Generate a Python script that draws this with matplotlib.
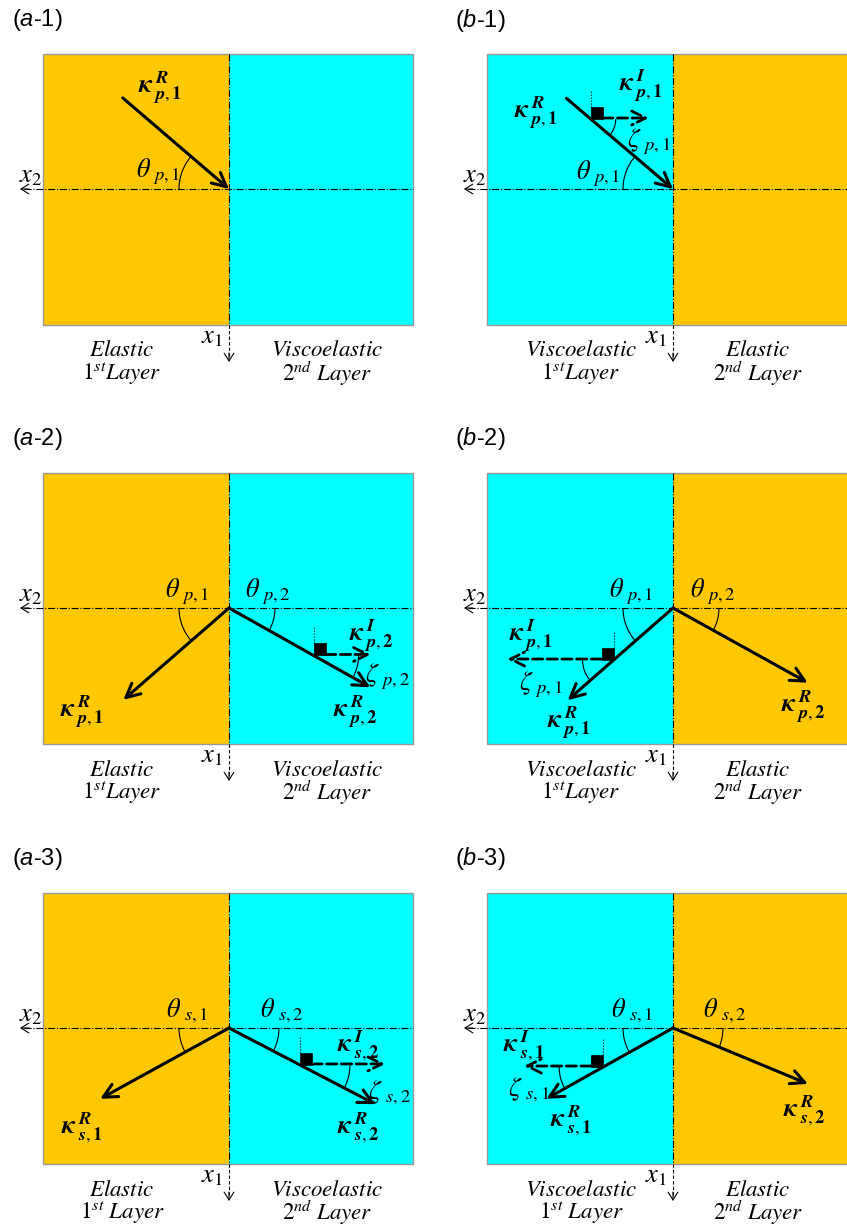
import matplotlib
matplotlib.use("Agg")
import numpy as np
import matplotlib.pyplot as plt
from matplotlib.patches import Rectangle, Arc

plt.rcParams["mathtext.rm"] = "Liberation Sans"
plt.rcParams["mathtext.it"] = "Liberation Sans:italic"

W, H = 847, 1226
ORANGE = "#FFC800"
CYAN = "#00FFFF"

# ---- panel content -------------------------------------------------------
panel_ids = ["a-1", "b-1", "a-2", "b-2", "a-3", "b-3"]
layer_names = {"a": ["Elastic", "Viscoelastic"], "b": ["Viscoelastic", "Elastic"]}
wave_type = {"a-1": "p", "b-1": "p", "a-2": "p", "b-2": "p", "a-3": "s", "b-3": "s"}

# ray angles from the x2 axis (degrees) and drawn ray lengths
incident_angle = {"a-1": 40.6, "b-1": 40.4}
incident_length = {"a-1": 140, "b-1": 140}
reflected_angle = {"a-2": 41.0, "b-2": 41.2, "a-3": 28.8, "b-3": 29.2}
reflected_length = {"a-2": 140, "b-2": 140, "a-3": 147, "b-3": 145}
transmitted_angle = {"a-2": 29.3, "b-2": 29.0, "a-3": 27.5, "b-3": 22.5}
transmitted_length = {"a-2": 162, "b-2": 154, "a-3": 165, "b-3": 146}

# attenuation (imaginary wave vector) markers in the viscoelastic layer
attenuation_ray = {"b-1": "inc", "a-2": "tra", "b-2": "ref", "a-3": "tra", "b-3": "ref"}
attenuation_offset = {"b-1": 108, "a-2": 97, "b-2": 79, "a-3": 80, "b-3": 80}
attenuation_length = {"b-1": 58, "a-2": 57, "b-2": 106, "a-3": 85, "b-3": 79}

# ---- layout ----------------------------------------------------------------
row_tops = [54, 473, 893]
col_lefts = {"a": 43, "b": 487}
BOX_W, BOX_H = 370, 271
HALF = 186
AXIS_DROP = 135
zeta_radius = {"b-1": 25, "a-2": 45, "b-2": 31, "a-3": 50, "b-3": 44}
theta_radius = 50
SQ = 12

label_offsets = {
    "a-1": {"kR_in": (-69, -101), "th_in": (-71, -17)},
    "b-1": {"kR_in": (-137, -76), "kI": (-32, -103), "zeta": (-24, -47), "th_in": (-75, -15)},
    "a-2": {"th1": (-42, -16), "th2": (39, -16), "kR1": (-147, 104), "kI": (142, 28),
            "zeta": (159, 69), "kR2": (126, 104)},
    "b-2": {"th1": (-42, -16), "th2": (40, -16), "kI": (-142, 28), "zeta": (-132, 77),
            "kR1": (-104, 115), "kR2": (130, 99)},
    "a-3": {"th1": (-42, -17), "th2": (53, -17), "kR1": (-147, 100), "kI": (129, 18),
            "zeta": (161, 65), "kR2": (129, 100)},
    "b-3": {"th1": (-41, -17), "th2": (52, -17), "kI": (-149, 18), "zeta": (-144, 62),
            "kR1": (-102, 93), "kR2": (131, 83)},
}
bottom_label_dx = {"a": (-107, 98), "b": (-92, 85)}
ordinal_gap = ["", "", r"\ "]

SERIF = "stix"
LABEL_FS = 16.5
KAPPA_FS = 19
ANGLE_FS = 19


def kappa(part, wave, idx):
    return (r"$\boldsymbol{\kappa}\,{}^{\boldsymbol{" + part + r"}}_{\boldsymbol{"
            + wave + "," + idx + r"}}$")


def angle_sym(sym, wave, idx):
    return r"$\%s\;{}_{%s,%s}$" % (sym, wave, idx)


fig = plt.figure(figsize=(W / 100, H / 100), dpi=100)
ax = fig.add_axes([0, 0, 1, 1])
ax.set_xlim(0, W)
ax.set_ylim(H, 0)
ax.set_aspect("equal")
ax.axis("off")


def text(x, y, s, fs=LABEL_FS, **kw):
    ax.text(x, y, s, fontsize=fs, ha="center", va="center",
            math_fontfamily=SERIF, **kw)


def ray(start, end, lw=2.2, ls="-"):
    ax.annotate("", xy=end, xytext=start,
                arrowprops=dict(arrowstyle="->,head_length=0.5,head_width=0.25",
                                lw=lw, ls=ls, color="black", shrinkA=0, shrinkB=0,
                                mutation_scale=20))


for pid in panel_ids:
    col, row = pid[0], int(pid[2]) - 1
    left, top = col_lefts[col], row_tops[row]
    ox, oy = left + HALF, top + AXIS_DROP
    wave = wave_type[pid]

    c1, c2 = (ORANGE, CYAN) if col == "a" else (CYAN, ORANGE)
    ax.add_patch(Rectangle((left, top), HALF, BOX_H, fc=c1, ec="none", zorder=0))
    ax.add_patch(Rectangle((ox, top), BOX_W - HALF, BOX_H, fc=c2, ec="none", zorder=0))
    ax.add_patch(Rectangle((left, top), BOX_W, BOX_H, fill=False, ec="#999999",
                           lw=1.0, zorder=1))

    # panel tag
    tag_x = 12 if col == "a" else 455
    ax.text(tag_x, top - 34, r"($\mathit{%s}$-%s)" % (pid[0], pid[2]), fontsize=17,
            ha="left", va="center", family="Liberation Sans", math_fontfamily="custom")

    # coordinate axes
    x_end = left + BOX_W
    ax.plot([ox - 205, x_end], [oy, oy], ls="-.", lw=0.8, color="black", zorder=2)
    ax.annotate("", xy=(ox - 209, oy), xytext=(ox - 200, oy),
                arrowprops=dict(arrowstyle="->,head_length=0.4,head_width=0.25", lw=0.8,
                                color="black", shrinkA=0, shrinkB=0, mutation_scale=14))
    ax.plot([ox, ox], [top, top + BOX_H], ls="-.", lw=0.8, color="black", zorder=2)
    ax.plot([ox, ox], [top + BOX_H, oy + 168], ls=(0, (3, 2)), lw=0.8, color="black",
            zorder=2)
    ax.annotate("", xy=(ox, oy + 173), xytext=(ox, oy + 164),
                arrowprops=dict(arrowstyle="->,head_length=0.4,head_width=0.25", lw=0.8,
                                color="black", shrinkA=0, shrinkB=0, mutation_scale=14))
    text(ox - 198, oy - 14, r"$x_2$", fs=19)
    text(ox - 17, oy + 147, r"$x_1$", fs=19)

    # layer captions
    dxl, dxr = bottom_label_dx[col]
    names = layer_names[col]
    text(ox + dxl, oy + 161, r"$%s$" % names[0])
    text(ox + dxr, oy + 161, r"$%s$" % names[1])
    gap1 = ordinal_gap[row]
    text(ox + dxl, oy + 185, r"$1^{st}%sLayer$" % gap1)
    text(ox + dxr, oy + 185, r"$2^{nd}\ Layer$")

    offs = label_offsets[pid]
    ray_dirs = {}

    if pid in incident_angle:
        a = np.radians(incident_angle[pid])
        L = incident_length[pid]
        start = (ox - L * np.cos(a), oy - L * np.sin(a))
        ray(start, (ox, oy))
        ax.add_patch(Arc((ox, oy), 2 * theta_radius, 2 * theta_radius,
                         theta1=180, theta2=180 + incident_angle[pid], lw=0.8))
        ray_dirs["inc"] = (np.array([-np.cos(a), -np.sin(a)]), 1, incident_angle[pid])
        tx, ty = offs["kR_in"]
        text(ox + tx, oy + ty, kappa("R", wave, "1"), fs=KAPPA_FS)
        tx, ty = offs["th_in"]
        text(ox + tx, oy + ty, angle_sym("theta", wave, "1"), fs=ANGLE_FS)
    else:
        a1 = np.radians(reflected_angle[pid])
        L1 = reflected_length[pid]
        ray((ox, oy), (ox - L1 * np.cos(a1), oy + L1 * np.sin(a1)))
        ax.add_patch(Arc((ox, oy), 2 * theta_radius, 2 * theta_radius,
                         theta1=180 - reflected_angle[pid], theta2=180, lw=0.8))
        ray_dirs["ref"] = (np.array([-np.cos(a1), np.sin(a1)]), -1, reflected_angle[pid])

        a2 = np.radians(transmitted_angle[pid])
        L2 = transmitted_length[pid]
        ray((ox, oy), (ox + L2 * np.cos(a2), oy + L2 * np.sin(a2)))
        r2 = 46 if row == 1 else theta_radius
        ax.add_patch(Arc((ox, oy), 2 * r2, 2 * r2,
                         theta1=0, theta2=transmitted_angle[pid], lw=0.8))
        ray_dirs["tra"] = (np.array([np.cos(a2), np.sin(a2)]), 1, transmitted_angle[pid])

        for key, idx in [("th1", "1"), ("th2", "2")]:
            tx, ty = offs[key]
            text(ox + tx, oy + ty, angle_sym("theta", wave, idx), fs=ANGLE_FS)
        tx, ty = offs["kR1"]
        text(ox + tx, oy + ty, kappa("R", wave, "1"), fs=KAPPA_FS)
        tx, ty = offs["kR2"]
        text(ox + tx, oy + ty, kappa("R", wave, "2"), fs=KAPPA_FS)

    if pid in attenuation_ray:
        u, sx, ang = ray_dirs[attenuation_ray[pid]]
        d = attenuation_offset[pid]
        px, py = ox + d * u[0], oy + d * u[1]
        # square marker sitting on the ray, opening toward the attenuation direction
        sq_x = px if sx > 0 else px - SQ
        ax.add_patch(Rectangle((sq_x, py - SQ), SQ, SQ, fc="black", ec="black",
                               lw=0.5, zorder=4))
        ax.plot([px, px], [py - SQ, py - SQ - 17], ls=":", lw=0.8, color="black")
        ray((px + sx * SQ, py - 1), (px + sx * attenuation_length[pid], py - 1),
            lw=2.0, ls="--")
        rz = zeta_radius[pid]
        if sx > 0:
            ax.add_patch(Arc((px, py), 2 * rz, 2 * rz, theta1=0, theta2=ang, lw=0.8))
        else:
            ax.add_patch(Arc((px, py), 2 * rz, 2 * rz, theta1=180 - ang, theta2=180,
                             lw=0.8))
        idx = "1" if col == "b" else "2"
        tx, ty = offs["kI"]
        text(ox + tx, oy + ty, kappa("I", wave, idx), fs=KAPPA_FS)
        tx, ty = offs["zeta"]
        text(ox + tx, oy + ty, angle_sym("zeta", wave, idx), fs=ANGLE_FS)

fig.savefig("out.png", dpi=100)
